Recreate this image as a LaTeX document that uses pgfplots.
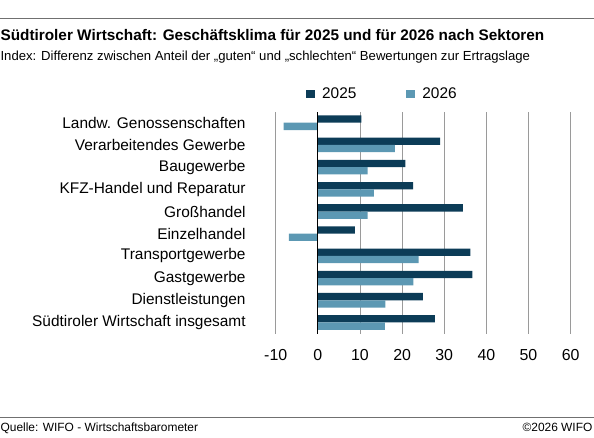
\documentclass[border=0pt]{standalone}
\usepackage{fontspec}
\setmainfont{Liberation Sans}
\usepackage{pgfplots}
\pgfplotsset{compat=1.18}
\usepackage{pgfplotstable}

\definecolor{darkblue}{HTML}{0C3C57}
\definecolor{lightblue}{HTML}{5C98B3}
\definecolor{rulegray}{HTML}{707070}
\definecolor{gridgray}{HTML}{9A9A9A}

% Index values per sector (0 = bottom row, 9 = top row)
\pgfplotstableread{
pos val
9 10.3
8 29.0
7 20.8
6 22.6
5 34.4
4 8.8
3 36.2
2 36.7
1 24.9
0 27.8
}\dataA
\pgfplotstableread{
pos val
9 -8.1
8 18.3
7 11.8
6 13.3
5 11.8
4 -6.9
3 23.9
2 22.7
1 16.0
0 15.9
}\dataB

\begin{document}
\begin{tikzpicture}
\path (0bp,0bp) rectangle (594bp,-438bp);
\draw[rulegray, line width=0.8bp] (0bp,-18bp) -- (594bp,-18bp);
\node[anchor=base west, inner sep=0pt, font=\fontsize{15.4}{18}\selectfont\bfseries] at (0bp,-41bp)
  {Südtiroler Wirtschaft: Geschäftsklima für 2025 und für 2026 nach Sektoren};
\node[anchor=base west, inner sep=0pt, font=\fontsize{13.2}{15}\selectfont] at (0bp,-60.5bp)
  {Index: Differenz zwischen Anteil der „guten“ und „schlechten“ Bewertungen zur Ertragslage};

\begin{axis}[
  at={(275.7bp,-334bp)}, anchor=south west,
  scale only axis, width=295.3bp, height=222.2bp,
  xbar, bar width=7.3bp,
  xmin=-10, xmax=60, ymin=-0.5, ymax=9.5,
  xtick={-10,0,10,20,30,40,50,60},
  xticklabels={-10,0,10,20,30,40,50,60},
  ytick={0,1,2,3,4,5,6,7,8,9},
  yticklabels={Südtiroler Wirtschaft insgesamt, Dienstleistungen, Gastgewerbe,
    Transportgewerbe, Einzelhandel, Großhandel, KFZ-Handel und Reparatur,
    Baugewerbe, Verarbeitendes Gewerbe, Landw. Genossenschaften},
  axis line style={draw=none},
  major tick length=0pt,
  xmajorgrids, major grid style={draw=gridgray, line width=0.8bp},
  xticklabel style={anchor=center, inner sep=0pt, yshift=-21.7bp,
    font=\fontsize{16}{19}\selectfont},
  yticklabel style={anchor=east, inner sep=0pt, xshift=-30bp,
    font=\fontsize{15.5}{18}\selectfont},
  legend columns=2,
  legend style={draw=none, fill=none, at={(0.1026,1.081)}, anchor=west,
    inner sep=0pt, font=\fontsize{15.5}{18}\selectfont,
    /tikz/every odd column/.append style={column sep=5bp},
    /tikz/every even column/.append style={column sep=48bp}},
  legend image code/.code={\draw[#1, draw=none] (0bp,-4bp) rectangle (9bp,4bp);},
]
\addplot[fill=darkblue, draw=none, bar shift=3.65bp] table[x=val, y=pos] {\dataA};
\addlegendentry{2025}
\addplot[fill=lightblue, draw=none, bar shift=-3.65bp] table[x=val, y=pos] {\dataB};
\addlegendentry{2026}
\draw[black, line width=0.9bp] (axis cs:0,-0.5) -- (axis cs:0,9.5);
\end{axis}

\draw[rulegray, line width=0.8bp] (0bp,-418bp) -- (594bp,-418bp);
\node[anchor=base west, inner sep=0pt, font=\fontsize{12}{14}\selectfont] at (0bp,-432.3bp)
  {Quelle: WIFO - Wirtschaftsbarometer};
\node[anchor=base east, inner sep=0pt, font=\fontsize{12}{14}\selectfont] at (593bp,-432.3bp)
  {©2026 WIFO};
\end{tikzpicture}
\end{document}
